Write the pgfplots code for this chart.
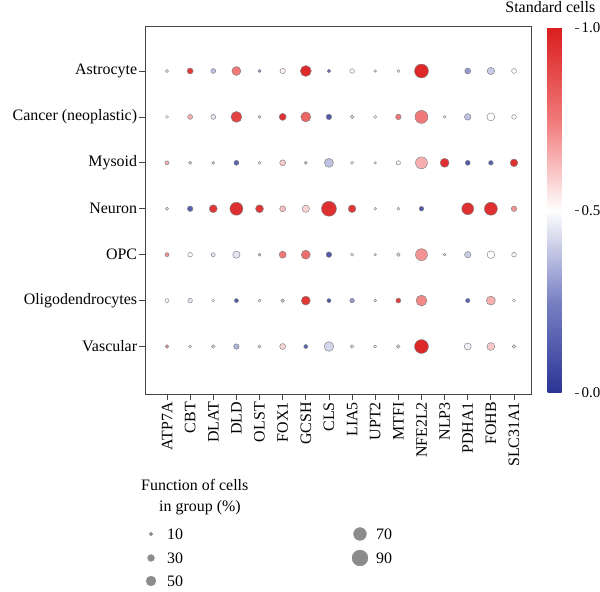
\documentclass[border=0pt]{standalone}
\usepackage{fontspec}
\setmainfont{Liberation Serif}
\usepackage{pgfplots}
\usepackage{pgfplotstable}
\pgfplotsset{compat=1.18}

\pgfplotstableread{
x y p v
0 0 4 0.5
1 0 24 0.92
2 0 17 0.38
3 0 44 0.75
4 0 4 0.3
5 0 20 0.52
6 0 57 0.97
7 0 8 0.18
8 0 15 0.5
9 0 1 0.5
10 0 4 0.45
11 0 77 0.97
13 0 24 0.3
14 0 33 0.4
15 0 17 0.5
0 1 4 0.5
1 1 17 0.65
2 1 17 0.45
3 1 57 0.9
4 1 4 0.45
5 1 31 0.95
6 1 51 0.8
7 1 21 0.12
8 1 8 0.45
9 1 4 0.5
10 1 21 0.75
11 1 71 0.75
12 1 1 0.5
13 1 28 0.38
14 1 37 0.5
15 1 15 0.5
0 2 11 0.65
1 2 4 0.45
2 2 4 0.4
3 2 17 0.15
4 2 4 0.5
5 2 24 0.6
6 2 4 0.4
7 2 44 0.38
8 2 4 0.5
9 2 1 0.5
10 2 13 0.52
11 2 64 0.65
12 2 44 0.95
13 2 17 0.12
14 2 15 0.15
15 2 35 0.95
0 3 4 0.5
1 3 21 0.15
2 3 37 0.93
3 3 71 0.95
4 3 37 0.93
5 3 24 0.62
6 3 33 0.58
7 3 84 0.95
8 3 35 0.93
9 3 2 0.5
10 3 4 0.45
11 3 15 0.12
13 3 64 0.95
14 3 71 0.95
15 3 21 0.7
0 4 11 0.7
1 4 15 0.5
2 4 11 0.45
3 4 33 0.45
4 4 4 0.4
5 4 31 0.75
6 4 44 0.78
7 4 21 0.12
8 4 4 0.5
9 4 1 0.5
10 4 8 0.45
11 4 64 0.7
12 4 1 0.5
13 4 27 0.4
14 4 35 0.5
15 4 15 0.5
0 5 11 0.5
1 5 15 0.45
2 5 4 0.5
3 5 11 0.12
4 5 4 0.5
5 5 8 0.4
6 5 44 0.93
7 5 11 0.12
8 5 15 0.3
9 5 2 0.5
10 5 17 0.92
11 5 57 0.72
13 5 13 0.15
14 5 44 0.65
15 5 4 0.5
0 6 8 0.7
1 6 4 0.45
2 6 8 0.45
3 6 21 0.35
4 6 4 0.5
5 6 24 0.58
6 6 11 0.15
7 6 48 0.42
8 6 8 0.45
9 6 3 0.5
10 6 8 0.42
11 6 77 0.97
13 6 31 0.47
14 6 37 0.6
15 6 8 0.45
}\dotdata

\pgfplotstableread{
x y p
151 58 10
151 34 30
151 11 50
360 58 70
360 34 90
}\sizelegend

\definecolor{axgray}{RGB}{70,70,70}
\definecolor{leggray}{RGB}{140,140,140}

\begin{document}
\fontsize{16}{19}\selectfont
\begin{tikzpicture}
\path[use as bounding box] (0,0) rectangle (600bp,592bp);
\begin{axis}[
  scale only axis,
  width=386.4bp, height=367bp,
  at={(145.3bp,198bp)}, anchor=south west,
  xmin=-0.938, xmax=15.765,
  ymin=-0.958, ymax=7.034,
  y dir=reverse,
  xtick={0,...,15},
  xticklabels={ATP7A,CBT,DLAT,DLD,OLST,FOX1,GCSH,CLS,LIA5,UPT2,MTFI,NFE2L2,NLP3,PDHA1,FOHB,SLC31A1},
  ytick={0,...,6},
  yticklabels={Astrocyte,Cancer (neoplastic),Mysoid,Neuron,OPC,Oligodendrocytes,Vascular},
  xtick pos=bottom, ytick pos=left,
  tick align=outside,
  major tick length=6bp,
  tick style={axgray, line width=0.8bp},
  axis line style={axgray, line width=1bp},
  xticklabel style={rotate=90, anchor=east, font=\fontsize{16}{19}\selectfont, inner sep=2bp},
  yticklabel style={font=\fontsize{16}{19}\selectfont, inner sep=2bp},
  colormap={refmap}{rgb255=(42,52,148) rgb255=(120,128,195) rgb255=(255,255,255) rgb255=(240,120,120) rgb255=(218,30,30)},
  point meta min=0, point meta max=1,
  colorbar,
  colorbar style={
    at={(parent axis.north east)}, anchor=north west,
    xshift=7.3bp, yshift=-1bp,
    scale only axis,
    width=27bp, height=365bp,
    axis line style={draw=none},
    ytick={0,0.5,1},
    yticklabels={0.0,0.5,1.0},
    ytick pos=right,
    tick align=outside,
    major tick length=4bp,
    tick style={axgray, line width=0.8bp},
    yticklabel style={font=\fontsize{15}{18}\selectfont, inner sep=3bp},
    title={Standard cells},
    title style={at={(1,1)}, anchor=base east, xshift=21bp, yshift=10bp, font=\fontsize{16}{19}\selectfont, inner sep=0pt},
  },
]
\addplot[scatter, only marks, mark=*, scatter src=explicit,
  scatter/use mapped color={draw=black!50, fill=mapped color},
  visualization depends on={1.2+0.075*\thisrow{p} \as \rr},
  scatter/@pre marker code/.append style={/tikz/mark size=\rr},
  line width=0.45bp]
  table[x=x, y=y, meta=v] {\dotdata};
\end{axis}

\begin{axis}[
  scale only axis, hide axis,
  width=600bp, height=592bp,
  at={(0bp,0bp)}, anchor=south west,
  xmin=0, xmax=600, ymin=0, ymax=592,
]
\addplot[only marks, mark=*,
  point meta=explicit,
  scatter,
  scatter/use mapped color={draw=leggray, fill=leggray},
  visualization depends on={1.2+0.075*\thisrow{p} \as \rr},
  scatter/@pre marker code/.append style={/tikz/mark size=\rr}]
  table[x=x, y=y, meta=p] {\sizelegend};
\addplot[only marks, mark=none, point meta=explicit,
  nodes near coords={\pgfmathprintnumber[assume math mode=true]{\pgfplotspointmeta}},
  every node near coord/.append style={anchor=west, xshift=16bp, inner sep=0pt, text=black, font=\fontsize{16}{19}\selectfont}]
  table[x=x, y=y, meta=p] {\sizelegend};
\end{axis}

\node[anchor=base west, inner sep=0pt] at (141bp,101bp) {Function of cells};
\node[anchor=base west, inner sep=0pt] at (159bp,80bp) {in group (\%)};
\end{tikzpicture}
\end{document}
